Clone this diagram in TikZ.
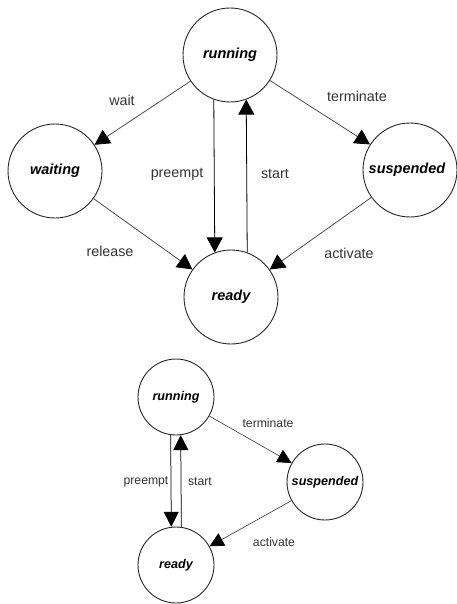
\documentclass[tikz,border=0pt]{standalone}
\usepackage{fontspec}
\setmainfont{Liberation Sans}
\usetikzlibrary{arrows.meta}
\begin{document}
\begin{tikzpicture}[x=1pt,y=-1pt,
  state/.style={circle,draw=black!85,line width=0.9pt,inner sep=0pt,
    minimum size=#1,font=\fontsize{14.5}{16}\selectfont\bfseries\itshape},
  smallstate/.style={state=#1,font=\fontsize{12.6}{14}\selectfont\bfseries\itshape},
  lbl/.style={inner sep=0pt,text=black!80,font=\fontsize{14.3}{16}\selectfont},
  smalllbl/.style={lbl,font=\fontsize{12.2}{14}\selectfont},
  trans/.style={draw=black!70,line width=0.8pt,-{Triangle[length=15pt,width=16pt,color=black]}},
  vtrans/.style={draw=black,line width=0.8pt,-{Triangle[length=15pt,width=16pt,color=black]}},
  strans/.style={draw=black!70,line width=0.7pt,-{Triangle[length=14pt,width=14pt,color=black]}},
  svtrans/.style={draw=black,line width=0.75pt,-{Triangle[length=15pt,width=15pt,color=black]}}]
\useasboundingbox (0,0) rectangle (457,604);

% full state diagram
\node[state=94pt] (running) at (230,55) {running};
\node[state=94pt] (waiting) at (55,171) {waiting};
\node[state=94pt] (suspended) at (410,170) {\hspace*{-6pt}suspended};
\node[state=94pt] (ready) at (231,297) {ready};

\draw[trans] (running) -- (waiting);
\draw[trans] (running) -- (suspended);
\draw[trans] (waiting) -- (ready);
\draw[trans] (suspended) -- (ready);
\draw[vtrans] (running.250) -- (ready.110);
\draw[vtrans] (ready.70) -- (running.290);

\node[lbl] (lwait) at (122,100) {wait};
\node[lbl] (lterm) at (357,96) {terminate};
\node[lbl] (lpre) at (177,174) {preempt};
\node[lbl] (lstart) at (275,174) {start};
\node[lbl] (lrel) at (110,251) {release};
\node[lbl] (lact) at (349,253) {activate};

% reduced state diagram
\node[smallstate=76pt] (srunning) at (176,397) {running};
\node[smallstate=76pt] (ssuspended) at (325,482) {suspended};
\node[smallstate=76pt] (sready) at (176,565) {ready};

\draw[strans] (srunning) -- (ssuspended);
\draw[strans] (ssuspended) -- (sready);
\draw[svtrans] (srunning.262.5) -- (sready.97.5);
\draw[svtrans] (sready.82.5) -- (srunning.277.5);

\node[smalllbl] (slterm) at (268,423) {terminate};
\node[smalllbl] (slpre) at (146,482) {preempt};
\node[smalllbl] (slstart) at (200,482) {start};
\node[smalllbl] (slact) at (274,542) {activate};
\end{tikzpicture}
\end{document}
